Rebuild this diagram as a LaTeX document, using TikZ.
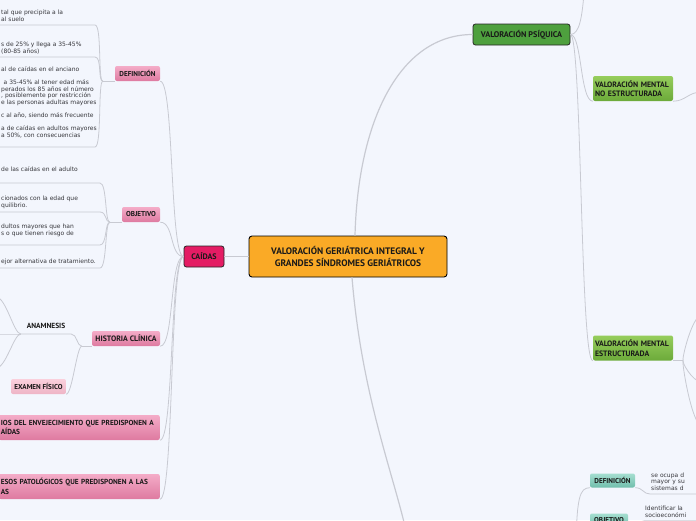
\documentclass[tikz,border=0pt]{standalone}
\usepackage{fontspec}
\setmainfont{DejaVu Sans}
\newfontfamily\lblfont{PT Sans}
\usepackage{tikz}
\definecolor{bgcol}{RGB}{243,246,253}
\definecolor{linecol}{RGB}{200,202,210}
\definecolor{txtcol}{RGB}{55,55,60}
\definecolor{lblcol}{RGB}{25,25,25}
\definecolor{rootcol}{RGB}{250,170,38}
\definecolor{caidacol}{RGB}{228,28,100}
\definecolor{psiqcol}{RGB}{78,160,62}
\definecolor{pinktop}{RGB}{244,172,200}
\definecolor{pinkbot}{RGB}{222,122,160}
\definecolor{pinklt}{RGB}{250,208,220}
\definecolor{pinkltb}{RGB}{238,180,198}
\definecolor{greentop}{RGB}{150,205,92}
\definecolor{greenbot}{RGB}{108,170,58}
\definecolor{tealtop}{RGB}{165,222,208}
\definecolor{tealbot}{RGB}{112,190,172}

\begin{document}
\begin{tikzpicture}[x=1pt, y=-1pt,
  link/.style={draw=linecol, line width=0.8pt},
  mainlink/.style={draw=linecol, line width=1.2pt},
  root/.style={draw=black, line width=0.9pt, rounded corners=3pt, fill=rootcol, align=center,
    minimum width=198pt, minimum height=41pt, text=lblcol,
    font=\lblfont\bfseries\fontsize{9.4}{12.5}\selectfont},
  topic/.style={draw=black!85, line width=0.8pt, rounded corners=2.5pt, minimum height=21pt,
    inner xsep=2pt, text=lblcol, font=\lblfont\bfseries\fontsize{8.2}{8}\selectfont},
  pinkbox/.style={rounded corners=2pt, top color=pinktop, bottom color=pinkbot, minimum height=15pt,
    inner xsep=2pt, inner ysep=1pt, text=lblcol, font=\lblfont\bfseries\fontsize{7.1}{7.5}\selectfont},
  greenbox/.style={rounded corners=2pt, top color=greentop, bottom color=greenbot, align=left,
    text width=76pt, inner xsep=2pt, minimum height=25pt, text=lblcol,
    font=\lblfont\bfseries\fontsize{7.8}{9.5}\selectfont},
  tealbox/.style={rounded corners=2pt, top color=tealtop, bottom color=tealbot, minimum height=14pt,
    inner xsep=2pt, inner ysep=1pt, text=lblcol, font=\lblfont\bfseries\fontsize{7.1}{7.5}\selectfont},
  txt/.style={anchor=south west, align=left, text=txtcol, inner xsep=1pt,
    inner ysep=3pt, font=\fontsize{6}{6.8}\selectfont}]
\useasboundingbox (0,0) rectangle (696,520);
\fill[bgcol] (0,0) rectangle (696,520);
\clip (0,0) rectangle (696,520);

% central topic and main branches
\node[root] (main) at (348,256.5) {VALORACIÓN GERIÁTRICA INTEGRAL Y\\GRANDES SÍNDROMES GERIÁTRICOS};
\node[topic, fill=caidacol, minimum width=40pt, font=\lblfont\bfseries\fontsize{8}{8}\selectfont] (caidas) at (204,256.5) {CAÍDAS};
\node[topic, fill=psiqcol, minimum width=97pt] (psiq) at (521.5,34.5) {VALORACIÓN PSÍQUICA};
\coordinate (valF) at (408,540);
\draw[link] (caidas.east) -- (main.west);
\draw[mainlink] ([xshift=7pt]main.north) .. controls (358,120) and (400,34.5) .. (psiq.west);
\draw[mainlink] ([xshift=4pt]main.south) .. controls (362,400) and (396,480) .. (valF);

% caidas
\node[pinkbox, minimum width=45pt] (defA) at (137.5,73.5) {DEFINICIÓN};
\node[pinkbox, minimum width=38pt] (objA) at (141,214.5) {OBJETIVO};
\node[pinkbox, minimum width=68pt, font=\lblfont\bfseries\fontsize{7.8}{7.5}\selectfont] (hist) at (126,338.5) {HISTORIA CLÍNICA};
\node[pinkbox, minimum height=25pt, anchor=east, text width=157pt, align=left,
  font=\lblfont\bfseries\fontsize{7.3}{9.5}\selectfont] (cambios) at (160,427.5)
  {IOS DEL ENVEJECIMIENTO QUE PREDISPONEN A\\AÍDAS};
\node[pinkbox, minimum height=25pt, anchor=east, text width=157pt, align=left,
  font=\lblfont\bfseries\fontsize{7.3}{9.5}\selectfont] (procesos) at (160,486.5)
  {ESOS PATOLÓGICOS QUE PREDISPONEN A LAS\\AS};
\foreach \k in {defA,objA,hist,cambios,procesos}
  \draw[link] (caidas.west) .. controls +(-14,0) and +(14,0) .. (\k.south east);

% definicion
\node[txt] (dk1) at (0,25) {tal que precipita a la\\al suelo};
\node[txt] (dk2) at (0,57) {s de 25\% y llega a 35-45\%\\(80-85 años)};
\node[txt, inner ysep=9pt] (dk3) at (0,147) {al de caídas en el anciano\\[6pt]
  \hspace*{2.5pt}a 35-45\% al tener edad más\\perados los 85 años el número\\, posiblemente por restricción\\e las personas adultas mayores\\[6pt]
  c al año, siendo más frecuente\\[6pt]
  a de caídas en adultos mayores\\a 50\%, con consecuencias};
\draw[link] (defA.south west) -- ++(-12,0) coordinate (dA);
\foreach \k in {dk1,dk2,dk3}
  \draw[link] (dA) .. controls +(-5,0) and +(7,0) .. ([xshift=95pt]\k.south west) -- (\k.south west);

% objetivo
\node[txt, inner ysep=11pt] (ok1) at (0,183) {de las caídas en el adulto};
\node[txt] (ok2) at (0,212) {cionados con la edad que\\quilibrio.};
\node[txt, inner ysep=8pt] (ok3) at (0,245) {dultos mayores que han\\s o que tienen riesgo de};
\node[txt] (ok4) at (0,268) {ejor alternativa de tratamiento.};
\draw[link] (objA.south west) -- ++(-12,0) coordinate (oA);
\foreach \k in {ok1,ok2,ok3,ok4}
  \draw[link] (oA) .. controls +(-5,0) and +(7,0) .. ([xshift=100pt]\k.south west) -- (\k.south west);

% historia clinica
\node[anchor=south, minimum width=50pt, inner ysep=5pt, text=lblcol,
  font=\lblfont\bfseries\fontsize{7.4}{7}\selectfont] (anam) at (46,334) {ANAMNESIS};
\node[pinkbox, top color=pinklt, bottom color=pinkltb, minimum width=55pt] (exam) at (38.5,386.5) {EXAMEN FÍSICO};
\draw[link] (hist.south west) -- ++(-10,0) coordinate (hA);
\draw[link] (hA) .. controls +(-5,0) and +(6,0) .. (anam.south east) -- (anam.south west);
\draw[link] (hA) .. controls +(-5,0) and +(6,0) .. (exam.south east);
\coordinate (ak1) at (-4,297);
\coordinate (ak2) at (-4,334);
\coordinate (ak3) at (-4,368);
\foreach \k in {ak1,ak2,ak3}
  \draw[link] (anam.south west) .. controls +(-7,0) and +(10,0) .. (\k);

% valoracion psiquica
\node[greenbox] (mne) at (633,88.5) {VALORACIÓN MENTAL\\NO ESTRUCTURADA};
\node[greenbox] (me) at (633,348) {VALORACIÓN MENTAL\\ESTRUCTURADA};
\coordinate (pTop) at (584,-6);
\draw[link] (psiq.east) .. controls (580,34.5) and (582,15) .. (pTop);
\draw[link] (psiq.east) .. controls (582,34.5) and (580,101) .. (mne.south west);
\draw[link] (psiq.east) .. controls (582,34.5) and (580,361) .. (me.south west);
\coordinate (mneK) at (702,92);
\draw[link] (mne.south east) .. controls (686,101) and (688,92) .. (mneK);
\draw[link] (me.south east) -- ++(10,0) coordinate (mA);
\coordinate (mk1) at (702,315);
\coordinate (mk2) at (702,382);
\coordinate (mk3) at (702,426);
\foreach \k in {mk1,mk2,mk3}
  \draw[link] (mA) .. controls +(-2,0) and +(-10,0) .. (\k);

% bottom branch
\node[tealbox, minimum width=45pt] (defB) at (612.5,480.5) {DEFINICIÓN};
\node[tealbox, minimum width=38pt] (objB) at (609,520.5) {OBJETIVO};
\coordinate (tHub) at (576,560);
\draw[link] (tHub) .. controls (576,495) and (580,488) .. (defB.south west);
\draw[link] (tHub) .. controls (577,532) and (582,528) .. (objB.south west);
\node[txt, text width=60pt] (defBk) at (650,494) {se ocupa d\\mayor y su\\sistemas d};
\node[txt, anchor=north west, text width=60pt] (objBk) at (644,503) {Identificar la\\socioeconómi};
\draw[link] (defB.south east) .. controls +(8,0) and +(-7,0) .. (defBk.south west) -- (defBk.south east);
\draw[link] (objB.south east) .. controls +(8,0) and +(-7,0) .. (objBk.south west) -- (objBk.south east);
\end{tikzpicture}
\end{document}
